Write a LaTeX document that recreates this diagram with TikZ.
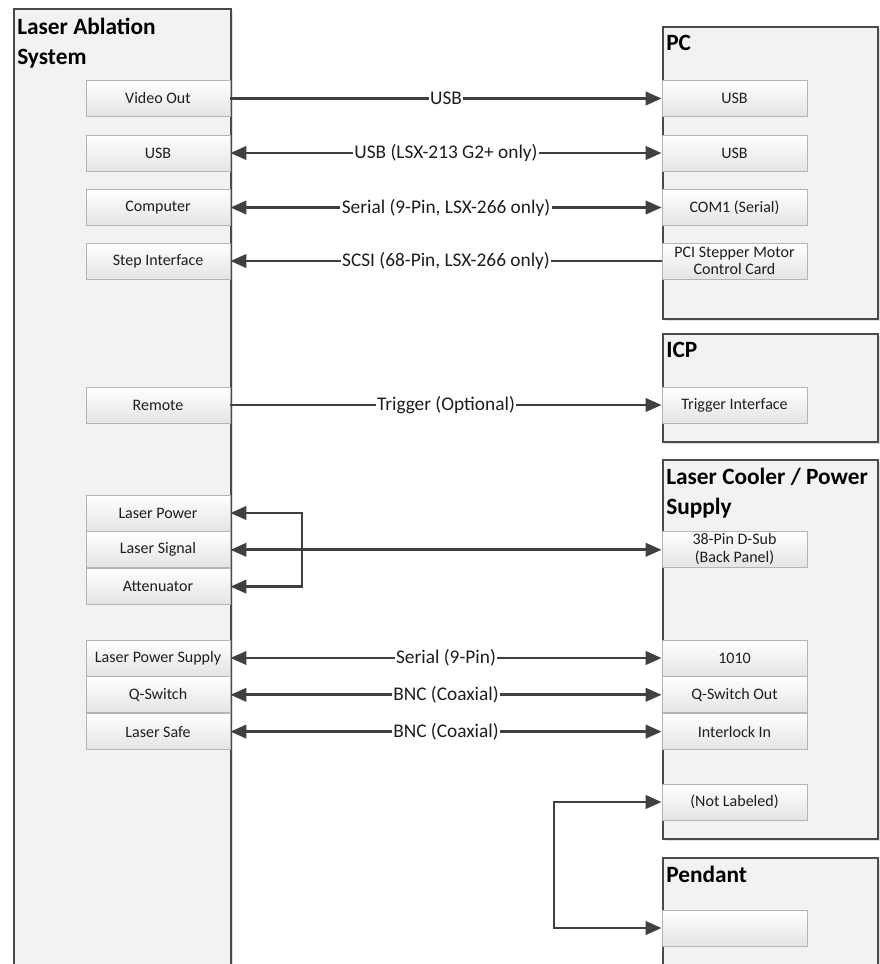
\documentclass[tikz,border=0pt]{standalone}
\usepackage{fontspec}
\setmainfont{Carlito}
\usetikzlibrary{positioning, arrows.meta, shadows}

\definecolor{unitline}{HTML}{4A4A4A}
\definecolor{unitfill}{HTML}{F2F2F2}
\definecolor{portline}{HTML}{B4B4B4}
\definecolor{portfill}{HTML}{E4E4E4}
\definecolor{linkc}{HTML}{404040}
\definecolor{txt}{HTML}{1E1E1E}

\begin{document}
\begin{tikzpicture}[
    x=0.75pt, y=-0.75pt,
    >={Triangle[length=12pt, width=10pt]},
    unit/.style={
        draw=unitline,
        line width=1.5pt,
        fill=unitfill,
        anchor=north west,
        inner sep=0pt,
        drop shadow={shadow xshift=1.5pt, shadow yshift=-1.5pt, fill=black!12, opacity=1}
    },
    ttl/.style={
        anchor=north west,
        align=left,
        inner xsep=3pt,
        inner ysep=7pt,
        font=\fontsize{17.5}{22.5}\selectfont\bfseries
    },
    port/.style={
        draw=portline,
        line width=0.6pt,
        top color=white,
        bottom color=portfill,
        minimum width=108pt,
        minimum height=27pt,
        inner sep=1pt,
        align=center,
        text=txt,
        font=\fontsize{12}{13}\selectfont
    },
    rport/.style={port, minimum width=108.75pt},
    link/.style={draw=linkc, line width=2.2pt},
    lbl/.style={fill=white, inner sep=1pt, text=txt, font=\fontsize{14.5}{16}\selectfont}
]
\useasboundingbox (0,0) rectangle (879,964);

% devices
\node[unit, minimum width=162.75pt, minimum height=721.5pt] (las) at (13,8) {};
\node[ttl] (lastitle) at (las.north west) {Laser Ablation\\System};
\node[unit, minimum width=161.25pt, minimum height=219pt] (pc) at (662,26) {};
\node[ttl] (pctitle) at (pc.north west) {PC};
\node[unit, minimum width=161.25pt, minimum height=81pt] (icp) at (662,333) {};
\node[ttl] (icptitle) at (icp.north west) {ICP};
\node[unit, minimum width=161.25pt, minimum height=284.25pt] (cool) at (662,459) {};
\node[ttl] (cooltitle) at (cool.north west) {Laser Cooler / Power\\Supply};
\node[unit, minimum width=161.25pt, minimum height=84.75pt] (pdt) at (662,857) {};
\node[ttl] (pdttitle) at (pdt.north west) {Pendant};

% ports of the ablation system
\node[port] (video) at (158,98.5) {Video Out};
\node[port] (lusb) at (158,153) {USB};
\node[port] (comp) at (158,207.5) {Computer};
\node[port] (step) at (158,261) {Step Interface};
\node[port] (remote) at (158,405) {Remote};
\node[port] (lpow) at (158,513) {Laser Power};
\node[port, below=0pt of lpow] (lsig) {Laser Signal};
\node[port, below=0pt of lsig] (atten) {Attenuator};
\node[port] (lps) at (158,658) {Laser Power Supply};
\node[port, below=0pt of lps] (qsw) {Q-Switch};
\node[port, below=0pt of qsw] (lsafe) {Laser Safe};

% ports of the other devices
\node[rport] (pcusb) at (734.5,98.5) {USB};
\node[rport] (pcusbb) at (734.5,153) {USB};
\node[rport] (com) at (734.5,207.5) {COM1 (Serial)};
\node[rport] (pci) at (734.5,261) {PCI Stepper Motor\\Control Card};
\node[rport] (trig) at (734.5,405) {Trigger Interface};
\node[rport] (dsub) at (734.5,549) {38-Pin D-Sub\\(Back Panel)};
\node[rport] (ps) at (734.5,658) {1010};
\node[rport, below=0pt of ps] (qout) {Q-Switch Out};
\node[rport, below=0pt of qout] (ilock) {Interlock In};
\node[rport] (nolab) at (734.5,802) {(Not Labeled)};
\node[rport] (pend) at (734.5,928) {};

% cables
\draw[link, ->] (video) -- node[lbl] {USB} (pcusb);
\draw[link, <->] (lusb) -- node[lbl] {USB (LSX-213 G2+ only)} (pcusbb);
\draw[link, <->] (comp) -- node[lbl] {Serial (9-Pin, LSX-266 only)} (com);
\draw[link, <-] (step) -- node[lbl] {SCSI (68-Pin, LSX-266 only)} (pci);
\draw[link, ->] (remote) -- node[lbl] {Trigger (Optional)} (trig);

\coordinate (brk) at (302,550);
\draw[link, <->] (lpow.east) -| (brk) |- (atten.east);
\draw[link, <->] (lsig.east) -- (lsig.east -| dsub.west);

\draw[link, <->] (lps) -- node[lbl] {Serial (9-Pin)} (ps);
\draw[link, <->] (qsw) -- node[lbl] {BNC (Coaxial)} (qout);
\draw[link, <->] (lsafe) -- node[lbl] {BNC (Coaxial)} (ilock);

\coordinate (jog) at (554,865);
\draw[link, <->] (nolab.west) -| (jog) |- (pend.west);

\end{tikzpicture}
\end{document}
